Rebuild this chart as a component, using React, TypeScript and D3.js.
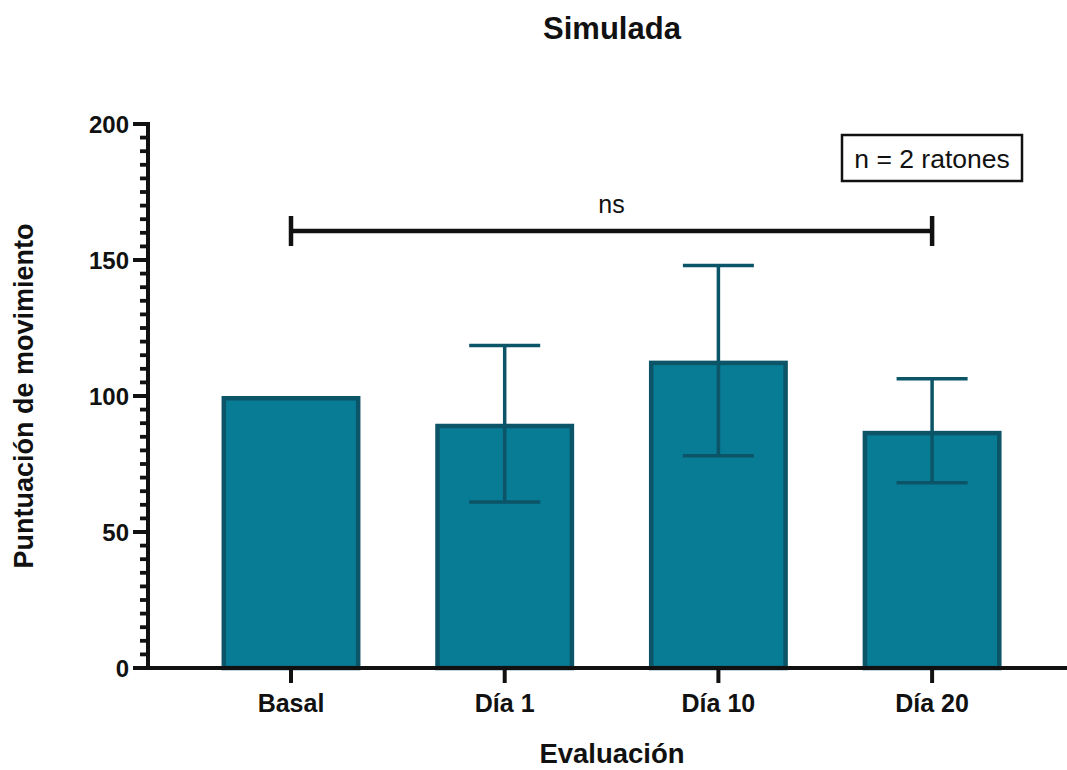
import React from "react";
import * as d3 from "d3";

// Movement score per evaluation time point (mean ± SD, n = 2)
const categories: string[] = ["Basal", "Día 1", "Día 10", "Día 20"];
const means: number[] = [100, 89.8, 113, 87.2];
const sds: (number | null)[] = [null, 28.8, 35, 19.1];
const majorTicks: number[] = [0, 50, 100, 150, 200];
const minorStep = 5;
const comparison = { from: "Basal", to: "Día 20", label: "ns" };

const W = 1067;
const H = 770;
const FONT = "'Liberation Sans', Arial, Helvetica, sans-serif";
const FILL = "#087B95";
const EDGE = "#0C5467";

export default function App() {
  const axisX = 148;
  const y = d3.scaleLinear().domain([0, 200]).range([668, 124]);
  const step = 213.7;
  const x = d3
    .scaleBand<string>()
    .domain(categories)
    .range([291 - step / 2, 291 + step * 3.5])
    .paddingInner(0.35)
    .paddingOuter(0.175);
  const bw = x.bandwidth();
  const cx = (c: string) => (x(c) as number) + bw / 2;
  const minorTicks = d3.range(0, 200 + minorStep / 2, minorStep).filter((v) => v % 50 !== 0);
  const capHalf = 35.5;
  const bw2 = 4.5;

  return (
    <svg
      width={W}
      height={H}
      viewBox={`0 0 ${W} ${H}`}
      style={{ position: "absolute", left: 0, top: 0, background: "#fff" }}
      fontFamily={FONT}
    >
      <rect x={0} y={0} width={W} height={H} fill="#fff" />
      {/* title */}
      <text x={612} y={39} textAnchor="middle" fontSize={31} fontWeight="bold" fill="#111">
        Simulada
      </text>

      {/* bars */}
      {categories.map((c, i) => (
        <rect
          key={c}
          x={(x(c) as number) + bw2 / 2}
          y={y(means[i]) + bw2 / 2}
          width={bw - bw2}
          height={y(0) - y(means[i]) - bw2 / 2}
          fill={FILL}
          stroke={EDGE}
          strokeWidth={bw2}
        />
      ))}

      {/* error bars */}
      {categories.map((c, i) => {
        const s = sds[i];
        if (s == null) return null;
        const hi = y(means[i] + s);
        const lo = y(means[i] - s);
        const xc = cx(c);
        return (
          <g key={c} stroke={EDGE} strokeWidth={3.5}>
            <line x1={xc} x2={xc} y1={hi} y2={lo} />
            <line x1={xc - capHalf} x2={xc + capHalf} y1={hi} y2={hi} />
            <line x1={xc - capHalf} x2={xc + capHalf} y1={lo} y2={lo} />
          </g>
        );
      })}

      {/* y axis */}
      <g stroke="#111" strokeWidth={4}>
        <line x1={axisX} x2={axisX} y1={y(200) - 2} y2={y(0) + 2} />
        {majorTicks.map((t) => (
          <line key={t} x1={axisX - 15} x2={axisX} y1={y(t)} y2={y(t)} />
        ))}
        {minorTicks.map((t) => (
          <line key={t} x1={axisX - 8} x2={axisX} y1={y(t)} y2={y(t)} strokeWidth={3.8} />
        ))}
      </g>
      {majorTicks.map((t) => (
        <text
          key={t}
          x={129}
          y={y(t)}
          dy="0.36em"
          textAnchor="end"
          fontSize={24}
          fontWeight="bold"
          fill="#111"
        >
          {t}
        </text>
      ))}

      {/* x axis */}
      <g stroke="#111" strokeWidth={4}>
        <line x1={axisX - 15} x2={W} y1={y(0)} y2={y(0)} />
        {categories.map((c) => (
          <line key={c} x1={cx(c)} x2={cx(c)} y1={y(0)} y2={y(0) + 15} />
        ))}
      </g>
      {categories.map((c) => (
        <text
          key={c}
          x={cx(c)}
          y={712}
          textAnchor="middle"
          fontSize={25}
          fontWeight="bold"
          fill="#111"
        >
          {c}
        </text>
      ))}

      {/* axis titles */}
      <text x={612} y={763} textAnchor="middle" fontSize={27.5} fontWeight="bold" fill="#111">
        Evaluación
      </text>
      <text
        transform={`translate(33, ${y(100)}) rotate(-90)`}
        textAnchor="middle"
        fontSize={27}
        fontWeight="bold"
        fill="#111"
      >
        Puntuación de movimiento
      </text>

      {/* significance bracket */}
      <g stroke="#111" strokeWidth={4.5}>
        <line x1={cx(comparison.from)} x2={cx(comparison.to)} y1={231} y2={231} />
        <line x1={cx(comparison.from)} x2={cx(comparison.from)} y1={216} y2={246} />
        <line x1={cx(comparison.to)} x2={cx(comparison.to)} y1={216} y2={246} />
      </g>
      <text
        x={(cx(comparison.from) + cx(comparison.to)) / 2}
        y={213}
        textAnchor="middle"
        fontSize={25}
        fill="#111"
      >
        {comparison.label}
      </text>

      {/* sample size note */}
      <rect x={842} y={135} width={180} height={46} fill="#fff" stroke="#111" strokeWidth={2.5} />
      <text x={932} y={168} textAnchor="middle" fontSize={26.5} fill="#111">
        n = 2 ratones
      </text>
    </svg>
  );
}
